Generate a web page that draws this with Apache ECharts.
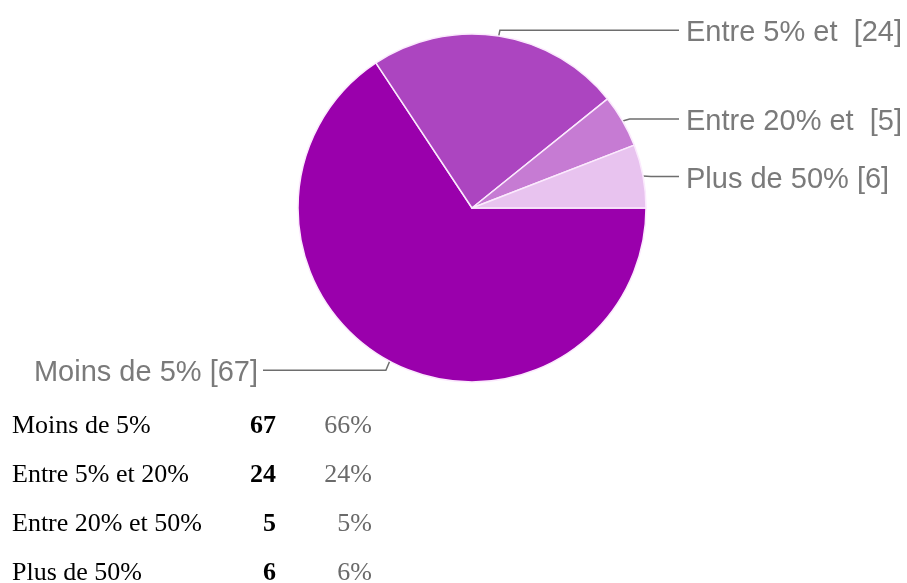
<!DOCTYPE html>
<html><head><meta charset="utf-8">
<script src="https://cdn.jsdelivr.net/npm/echarts@6/dist/echarts.min.js"></script>
<style>html,body{margin:0;padding:0;background:#fff}#c{width:907px;height:583px}</style>
</head><body><div id="c"></div>
<script>
// ---- data ----
const categories = ['Moins de 5%', 'Entre 5% et 20%', 'Entre 20% et 50%', 'Plus de 50%'];
const pieLabels = ['Moins de 5%', 'Entre 5% et ', 'Entre 20% et ', 'Plus de 50%'];
const values = [67, 24, 5, 6];
const colors = ['#9a00ac', '#ac45c0', '#c67bd3', '#e8c3ef'];

// ---- layout constants ----
const CX = 472, CY = 208, R = 174;
const RIGHT_LINE_END = 679, LEFT_LINE_END = 263;
const ROW0 = 426, ROW_STEP = 49;

const total = values.reduce((a, b) => a + b, 0);
const chart = echarts.init(document.getElementById('c'), null, {renderer: 'canvas'});

const tableGraphics = [];
categories.forEach((name, i) => {
  const y = ROW0 + i * ROW_STEP;
  tableGraphics.push({type: 'text', x: 12, y: y, style: {
    text: name, font: '26px "Liberation Serif", "Times New Roman", serif', fill: '#000',
    align: 'left', verticalAlign: 'middle'}});
  tableGraphics.push({type: 'text', x: 276, y: y, style: {
    text: String(values[i]), font: 'bold 26px "Liberation Serif", "Times New Roman", serif', fill: '#000',
    align: 'right', verticalAlign: 'middle'}});
  tableGraphics.push({type: 'text', x: 372, y: y, style: {
    text: Math.round(values[i] / total * 100) + '%', font: '26px "Liberation Serif", "Times New Roman", serif', fill: '#6a6a6a',
    align: 'right', verticalAlign: 'middle'}});
});

chart.setOption({
  animation: false,
  backgroundColor: '#fff',
  graphic: tableGraphics,
  series: [{
    type: 'pie',
    center: [CX, CY],
    radius: R,
    startAngle: 0,
    clockwise: true,
    data: categories.map((c, i) => ({name: c, value: values[i], itemStyle: {color: colors[i]}})),
    itemStyle: {borderColor: '#fbeafd', borderWidth: 1.5},
    label: {
      show: true,
      position: 'outside',
      fontFamily: '"Liberation Sans", Arial, sans-serif',
      fontSize: 29,
      color: '#7a7a7a',
      formatter: p => pieLabels[p.dataIndex] + ' [' + p.value + ']'
    },
    labelLine: {show: true, length: 8, length2: 10, lineStyle: {color: '#6e6e6e', width: 1.5}},
    labelLayout: function (p) {
      const pts = p.labelLinePoints;
      if (!pts) return {};
      const a = pts[0], b = pts[1];
      const right = b[0] > CX;
      const endX = right ? RIGHT_LINE_END : LEFT_LINE_END;
      const ly = b[1] + 2;
      return {
        x: right ? endX + 7 : endX - 5,
        y: ly + 3,
        align: right ? 'left' : 'right',
        verticalAlign: 'middle',
        labelLinePoints: [a, [b[0], ly], [endX, ly]]
      };
    },
    emphasis: {disabled: true}
  }]
});
</script></body></html>
